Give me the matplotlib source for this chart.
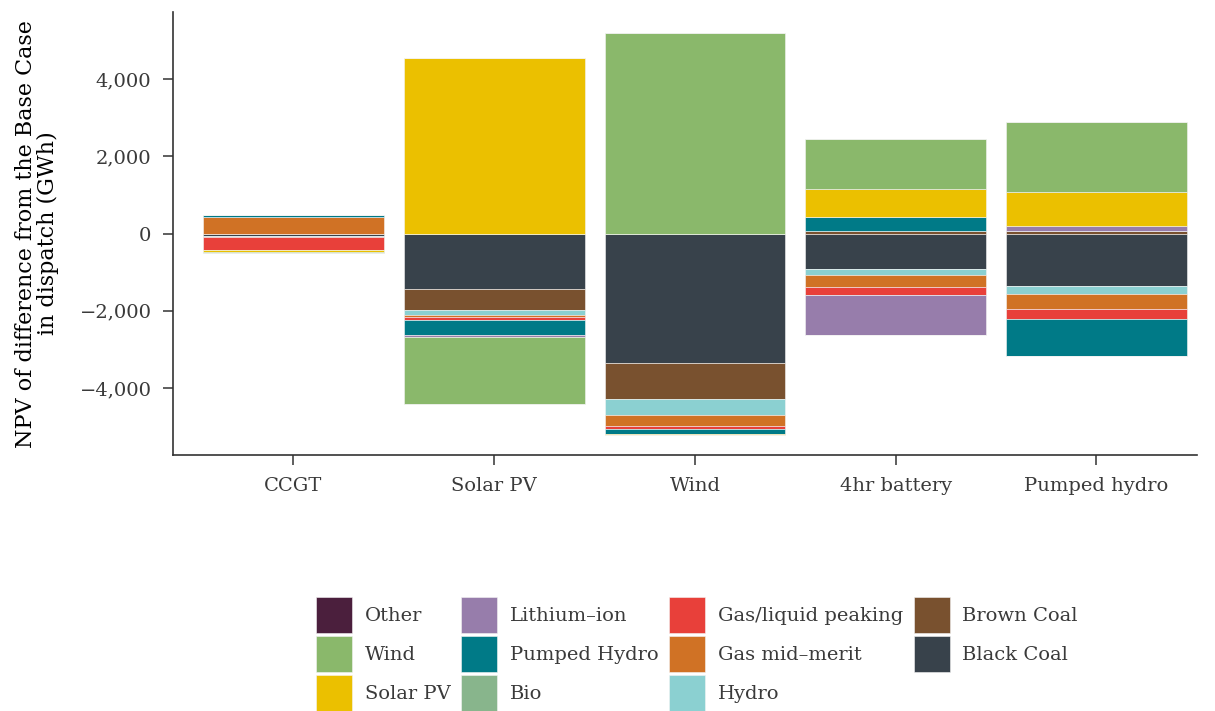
import matplotlib.pyplot as plt
import numpy as np
from matplotlib.patches import Patch
from matplotlib.ticker import FuncFormatter

plt.rcParams["font.family"] = ["DejaVu Serif"]
plt.rcParams["text.color"] = "#3a3a3a"
plt.rcParams["xtick.color"] = "#333333"
plt.rcParams["ytick.color"] = "#333333"
plt.rcParams["xtick.labelcolor"] = "#3a3a3a"
plt.rcParams["ytick.labelcolor"] = "#3a3a3a"

scenarios = ["CCGT", "Solar PV", "Wind", "4hr battery", "Pumped hydro"]

# NPV of dispatch difference vs Base Case, GWh
black_coal = [-57, -1424, -3345, -927, -1359]
brown_coal = [0, -544, -948, 70, 78]
hydro = [-26, -148, -414, -148, -215]
gas_mid = [420, -52, -277, -318, -388]
gas_peak = [-350, -60, -86, -207, -251]
bio = [0, 0, 0, 0, 0]
pumped_hydro = [52, -406, -122, 355, -950]
lithium = [0, -52, 0, -1028, 111]
solar = [-44, 4544, -26, 725, 888]
wind = [-15, -1717, 5191, 1287, 1823]
other = [0, 0, 0, 0, 0]

# stacking order, bottom up
series = [
    ("Black Coal", black_coal, "#38424b"),
    ("Brown Coal", brown_coal, "#79512f"),
    ("Hydro", hydro, "#8bd0d1"),
    ("Gas mid\u2013merit", gas_mid, "#d07225"),
    ("Gas/liquid peaking", gas_peak, "#e8403a"),
    ("Bio", bio, "#88b58c"),
    ("Pumped Hydro", pumped_hydro, "#007a87"),
    ("Lithium\u2013ion", lithium, "#977dab"),
    ("Solar PV", solar, "#ebc000"),
    ("Wind", wind, "#8ab86b"),
    ("Other", other, "#4b1f3d"),
]

fig = plt.figure(figsize=(12.15, 7.11), dpi=100)
ax = fig.add_axes([0.1424, 0.360, 0.8426, 0.623])

x = np.arange(len(scenarios))
pos_base = np.zeros(len(scenarios))
neg_base = np.zeros(len(scenarios))
for name, vals, color in series:
    v = np.array(vals, dtype=float)
    pos = np.where(v > 0, v, 0)
    neg = np.where(v < 0, v, 0)
    ax.bar(x, pos, 0.9, bottom=pos_base, color=color, edgecolor="#f4f4f4", linewidth=0.4)
    ax.bar(x, neg, 0.9, bottom=neg_base, color=color, edgecolor="#f4f4f4", linewidth=0.4)
    pos_base += pos
    neg_base += neg

ax.set_xlim(-0.6, 4.5)
ax.set_ylim(-5735, 5735)
ax.set_yticks([-4000, -2000, 0, 2000, 4000])
ax.yaxis.set_major_formatter(FuncFormatter(lambda v, p: f"{v:,.0f}".replace("-", "\u2212")))
ax.set_xticks(x)
ax.set_xticklabels(scenarios)
ax.tick_params(axis="both", labelsize=14, length=7.5, width=1.1)
ax.tick_params(axis="y", pad=8)
ax.tick_params(axis="x", pad=8)
ax.set_ylabel("NPV of difference from the Base Case\nin dispatch (GWh)", fontsize=16,
              labelpad=15, linespacing=0.95)

for s in ["top", "right"]:
    ax.spines[s].set_visible(False)
for s in ["left", "bottom"]:
    ax.spines[s].set_color("#333333")
    ax.spines[s].set_linewidth(1.2)

handles = [Patch(facecolor=c, edgecolor="#f4f4f4", linewidth=0.4, label=n) for n, _, c in series[::-1]]
fig.legend(
    handles=handles,
    loc="upper left",
    bbox_to_anchor=(316 / 1215, 1 - 597 / 711),
    ncol=4,
    frameon=False,
    fontsize=14,
    handlelength=1.85,
    handleheight=2.47,
    handletextpad=0.65,
    labelspacing=0.15,
    columnspacing=0.55,
    borderpad=0,
    borderaxespad=0,
)

fig.savefig("out.png", dpi=100)
